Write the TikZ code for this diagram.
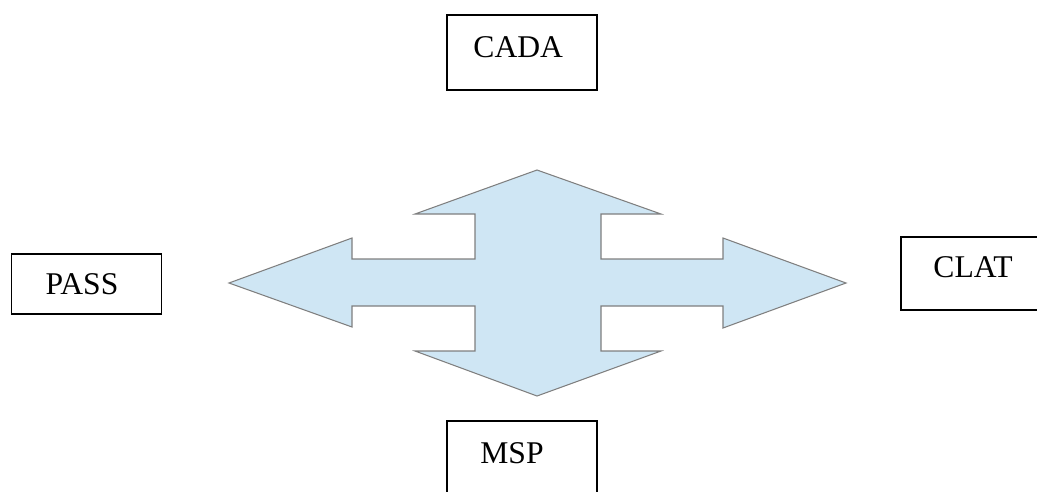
\documentclass[tikz,border=0pt]{standalone}
\usepackage{fontspec}
\setmainfont{Liberation Serif}
\usetikzlibrary{positioning}
\definecolor{arrowblue}{HTML}{CFE6F4}
\definecolor{arrowline}{HTML}{7F7F7F}

\begin{document}
\begin{tikzpicture}[x=0.02cm,y=-0.02cm,
  box/.style={draw,thick,rectangle,minimum width=3cm,minimum height=1.5cm,inner sep=0pt,font=\fontsize{18}{20}\selectfont},
  cross/.style={draw=arrowline,fill=arrowblue,line width=0.6pt,line join=miter}]
\useasboundingbox (0,0) rectangle (1037,491);
% four-way arrow
\draw[cross] (537,170)--(661,214)--(601,214)--(601,259)--(723,259)--(723,238)--(846,283)
  --(723,328)--(723,306)--(601,306)--(601,351)--(661,351)--(537,396)
  --(415,351)--(475,351)--(475,306)--(352,306)--(352,327)--(229,283)
  --(352,238)--(352,259)--(475,259)--(475,214)--(415,214)--cycle;
% boxes
\node[box,text depth=6.2pt] (cada) at (522,52.5) {CADA\kern0.15cm};
\node[box,minimum height=1.2cm] (pass) at (86.5,284) {PASS\kern0.18cm};
\node[box,minimum height=1.46cm,text depth=7.4pt] (clat) at (976,273.5) {CLAT\kern0.12cm};
\node[box,text depth=6.2pt] (msp) at (522,458.5) {MSP\kern0.4cm};
\end{tikzpicture}
\end{document}
